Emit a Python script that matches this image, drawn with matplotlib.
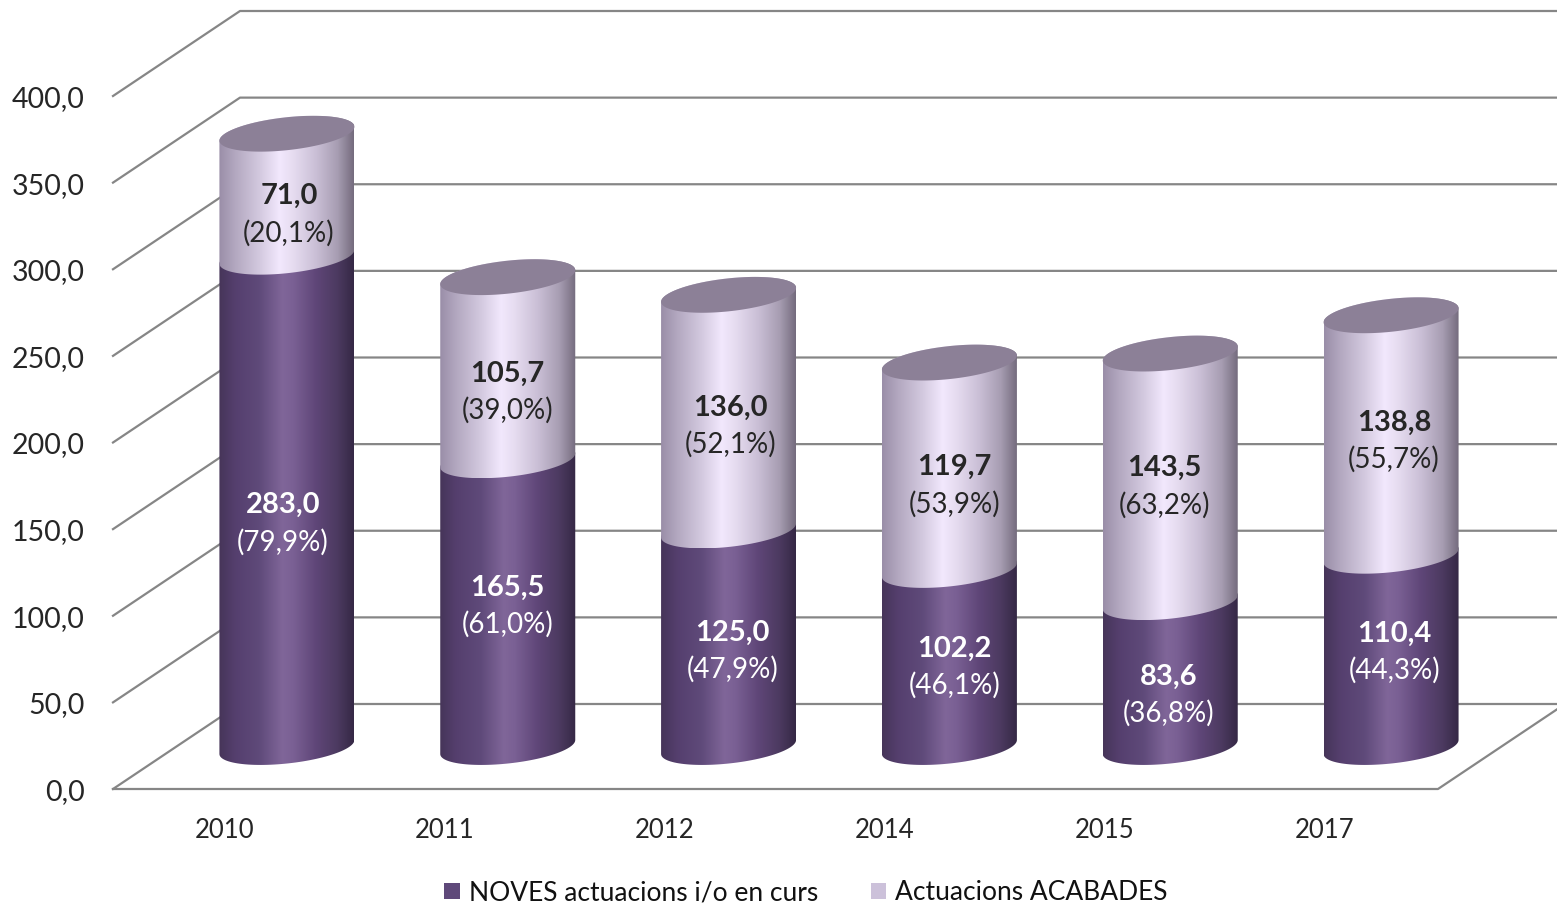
import matplotlib
matplotlib.use("Agg")
import matplotlib.pyplot as plt
import numpy as np
from matplotlib.colors import LinearSegmentedColormap
from matplotlib.patches import Patch, PathPatch
from matplotlib.path import Path

years = ["2010", "2011", "2012", "2014", "2015", "2017"]
noves = [283.0, 165.5, 125.0, 102.2, 83.6, 110.4]
acabades = [71.0, 105.7, 136.0, 119.7, 143.5, 138.8]
noves_pct = ["79,9%", "61,0%", "47,9%", "46,1%", "36,8%", "44,3%"]
acabades_pct = ["20,1%", "39,0%", "52,1%", "53,9%", "63,2%", "55,7%"]
y_ticks = [0, 50, 100, 150, 200, 250, 300, 350, 400]

# hand-moved data labels, pixels from the middle of each segment
noves_nudge = [(-4, -3), (0, 16), (4, 6), (5, 10), (-2, -2), (3, 18)]
acabades_nudge = [(2, -1), (0, -5), (2, 5), (5, -1), (-6, 10), (3, 13)]

W, H = 1557, 906
PX_X = 220.83  # pixels per category
PX_Y = 1.7325  # pixels per unit
DEPTH_X = 127 / PX_X
DEPTH_Y = 85 / PX_Y
RADIUS = 67.5 / PX_X
ELL_B = 16.5 / PX_Y
ELL_TILT = 7 / PX_Y

GRID = "#868686"
TXT = "#262626"
plt.rcParams["font.family"] = ["Lato", "DejaVu Sans"]

dark_cmap = LinearSegmentedColormap.from_list("dark", [
    (0.0, "#463559"), (0.12, "#553f6e"), (0.3, "#5f4a7a"), (0.47, "#806699"),
    (0.55, "#7a6094"), (0.72, "#5f4678"), (0.88, "#4c3a60"), (1.0, "#352845")])
light_cmap = LinearSegmentedColormap.from_list("light", [
    (0.0, "#9a8ea8"), (0.12, "#b3a8c0"), (0.3, "#d3c9df"), (0.45, "#f2e8fd"),
    (0.55, "#e6dcf0"), (0.72, "#cabfd6"), (0.88, "#a79db2"), (1.0, "#756c7e")])
TOP_COLOR = "#8c8097"


def arc(cx, v, t):
    return cx + RADIUS * np.cos(t), v + ELL_TILT * np.cos(t) + ELL_B * np.sin(t)


def segment(ax, cx, v0, v1, cmap, zorder):
    # body: front arc of the bottom ellipse, back arc of the top ellipse
    t = np.linspace(np.pi, 2 * np.pi, 60)
    xb, yb = arc(cx, v0, t)
    xt, yt = arc(cx, v1, t - np.pi)
    xs = np.r_[xb, xt, xb[0]]
    ys = np.r_[yb, yt, yb[0]]
    clip = PathPatch(Path(np.c_[xs, ys]), transform=ax.transData, fc="none", ec="none")
    ax.add_patch(clip)
    im = ax.imshow(np.linspace(0, 1, 256)[None, :], cmap=cmap, aspect="auto",
                   extent=(cx - RADIUS, cx + RADIUS, ys.min(), ys.max()), zorder=zorder)
    im.set_clip_path(clip)


def label(ax, cx, mid, nudge, value, pct, color):
    ax.annotate(f"{value:.1f}".replace(".", ","), (cx, mid), xytext=nudge,
                textcoords="offset pixels", ha="center", va="center", fontsize=21,
                fontweight="bold", color=color, zorder=10)
    ax.annotate(f"({pct})", (cx, mid), xytext=(nudge[0], nudge[1] - 37),
                textcoords="offset pixels", ha="center", va="center", fontsize=20,
                color=color, zorder=10)


fig = plt.figure(figsize=(W / 100, H / 100), dpi=100)
ax = fig.add_axes([0, 0, 1, 1])
xlim = (-113 / PX_X, (W - 113) / PX_X)
ylim = ((789 - H) / PX_Y, 789 / PX_Y)

# walls and floor
for v in y_ticks:
    ax.plot([0, DEPTH_X, xlim[1]], [v, v + DEPTH_Y, v + DEPTH_Y], color=GRID, lw=1.6, zorder=1)
    ax.annotate(f"{v:.1f}".replace(".", ","), (0, v), xytext=(-28, -3),
                textcoords="offset pixels", ha="right", va="center", fontsize=20.5, color=TXT)
ax.plot([0, len(years), len(years) + DEPTH_X], [0, 0, DEPTH_Y], color=GRID, lw=1.6, zorder=1)

for i, year in enumerate(years):
    # the year labels sit on a slightly tighter step than the categories
    ax.annotate(year, (0, 0), xytext=(112 + 220 * i, -41), textcoords="offset pixels",
                ha="center", va="center", fontsize=18.5, color=TXT)
    cx = i + 0.5 + DEPTH_X / 2
    base = DEPTH_Y / 2 - 0.3
    n, a = noves[i], acabades[i]
    segment(ax, cx, base, base + n, dark_cmap, 3)
    segment(ax, cx, base + n, base + n + a, light_cmap, 4)
    t = np.linspace(0, 2 * np.pi, 120)
    xc, yc = arc(cx, base + n + a, t)
    ax.fill(xc, yc, color=TOP_COLOR, lw=0, zorder=5)
    label(ax, cx, base + n / 2, noves_nudge[i], n, noves_pct[i], "white")
    label(ax, cx, base + n + a / 2, acabades_nudge[i], a, acabades_pct[i], TXT)

handles = [Patch(fc="#5F497A", label="NOVES actuacions i/o en curs"),
           Patch(fc="#CCC1DA", label="Actuacions ACABADES")]
fig.legend(handles=handles, loc="center", bbox_to_anchor=(806 / W, 1 - 893 / H), ncol=2,
           frameon=False, fontsize=19, handlelength=0.57, handleheight=0.57,
           handletextpad=0.35, columnspacing=2.0, borderpad=0, labelcolor="#111111")

ax.set_xlim(xlim)
ax.set_ylim(ylim)
ax.axis("off")
fig.savefig("out.png", dpi=100)
